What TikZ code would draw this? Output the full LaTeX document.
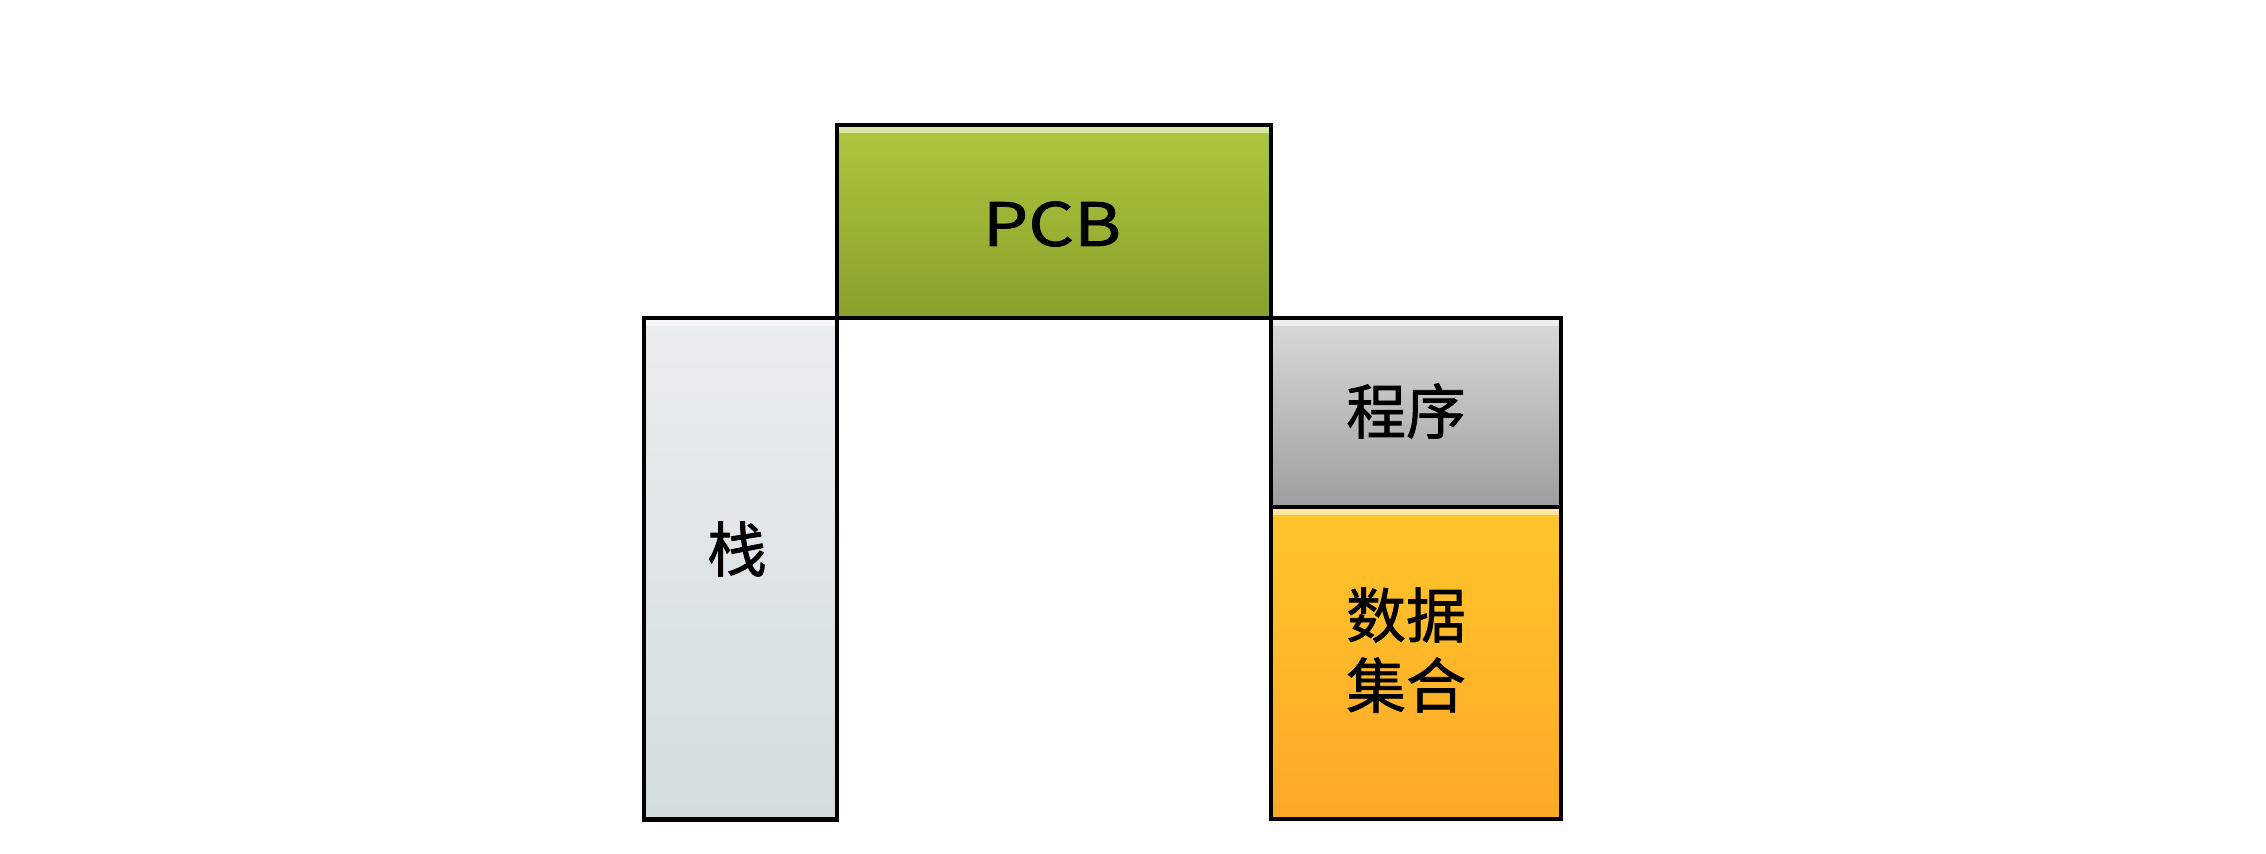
\documentclass[tikz,border=0pt]{standalone}
\usepackage{fontspec}
\setmainfont{Noto Sans CJK SC}
\newfontfamily\lblfont{Noto Sans CJK SC}[FakeBold=1.2]
\definecolor{pcbtop}{HTML}{ADC83E}
\definecolor{pcbbot}{HTML}{87A02B}
\definecolor{stktop}{HTML}{E9EDF0}
\definecolor{stkbot}{HTML}{D3DCDF}
\definecolor{prgtop}{HTML}{DADADA}
\definecolor{prgbot}{HTML}{9E9E9E}
\definecolor{dattop}{HTML}{FFC62B}
\definecolor{datbot}{HTML}{FDA828}
\tikzset{
  blk/.style 2 args={draw=black, line width=1.2pt, inner sep=0pt, anchor=north west,
    top color=#1, bottom color=#2,
    path picture={\shade[top color=white!55!#1, bottom color=#1]
      (path picture bounding box.north west) rectangle ([yshift=-0.07cm]path picture bounding box.north east);}},
  lbl/.style={font=\lblfont\fontsize{17}{20}\selectfont, align=center, inner sep=0pt, text=black},
}
\begin{document}
\begin{tikzpicture}[x=0.01cm,y=-0.01cm]
\useasboundingbox (0,0) rectangle (2266,853);
\node[blk={stktop}{stkbot}, minimum width=1.93cm, minimum height=5.01cm] (stack) at (642,316) {};
\node[blk={pcbtop}{pcbbot}, minimum width=4.34cm, minimum height=1.93cm] (pcb) at (835,123) {};
\node[blk={prgtop}{prgbot}, minimum width=2.90cm, minimum height=1.89cm] (prog) at (1269,316) {};
\node[blk={dattop}{datbot}, minimum width=2.90cm, minimum height=3.12cm] (data) at (1269,505) {};
\node[lbl, xscale=1.2] (pcbt) at (1052,224) {PCB};
\node[lbl] (stackt) at (737,549) {栈};
\node[lbl] (progt) at (1406,411) {程序};
\node[lbl] (datat) at (1406,650) {数据\\集合};
\end{tikzpicture}
\end{document}
